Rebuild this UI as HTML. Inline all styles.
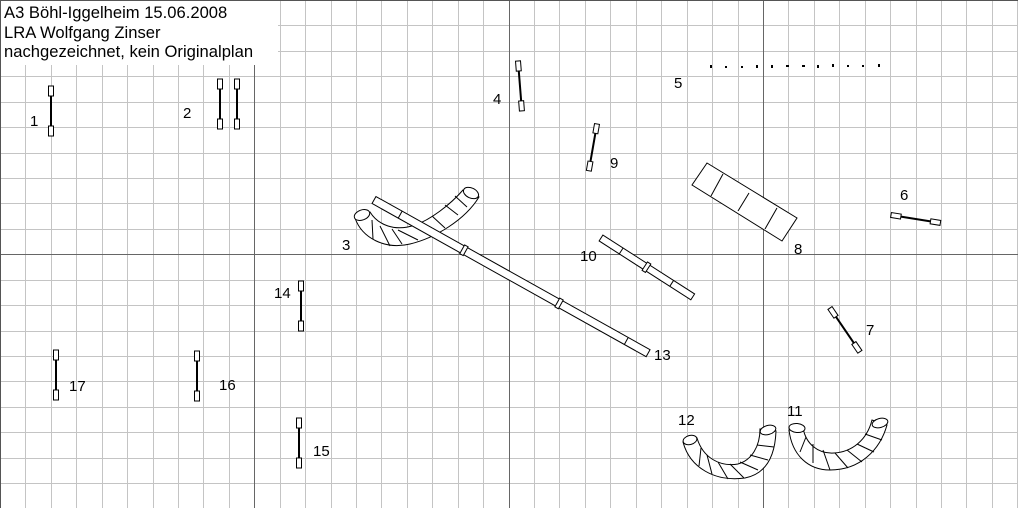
<!DOCTYPE html>
<html><head><meta charset="utf-8"><style>
html,body{margin:0;padding:0;background:#fff;}
svg{display:block;}
text{font-family:"Liberation Sans",sans-serif;fill:#000;}
</style></head><body>
<svg width="1018" height="508" viewBox="0 0 1018 508" xmlns="http://www.w3.org/2000/svg">
<defs>
<g id="j">
<rect x="0" y="-2.5" width="10" height="5" fill="#fff" stroke="#000" stroke-width="1"/>
<line x1="10" y1="0" x2="40" y2="0" stroke="#000" stroke-width="2"/>
<rect x="40" y="-2.5" width="10" height="5" fill="#fff" stroke="#000" stroke-width="1"/>
</g>
</defs>
<rect width="1018" height="508" fill="#fff"/>
<path stroke="#c4c4c4" stroke-width="1" fill="none" d="
M25.5,0V508 M51.5,0V508 M76.5,0V508 M102.5,0V508 M127.5,0V508 M153.5,0V508 M178.5,0V508 M203.5,0V508 M229.5,0V508
M280.5,0V508 M305.5,0V508 M331.5,0V508 M356.5,0V508 M381.5,0V508 M407.5,0V508 M432.5,0V508 M458.5,0V508 M483.5,0V508
M534.5,0V508 M559.5,0V508 M585.5,0V508 M610.5,0V508 M636.5,0V508 M661.5,0V508 M687.5,0V508 M712.5,0V508 M738.5,0V508
M788.5,0V508 M814.5,0V508 M839.5,0V508 M865.5,0V508 M890.5,0V508 M916.5,0V508 M941.5,0V508 M966.5,0V508 M992.5,0V508 M1017.5,0V508
M0,25.5H1018 M0,51.5H1018 M0,76.5H1018 M0,102.5H1018 M0,127.5H1018 M0,153.5H1018 M0,178.5H1018 M0,203.5H1018 M0,229.5H1018
M0,280.5H1018 M0,305.5H1018 M0,331.5H1018 M0,356.5H1018 M0,381.5H1018 M0,407.5H1018 M0,432.5H1018 M0,458.5H1018 M0,483.5H1018"/>
<path stroke="#666" stroke-width="1" fill="none" d="M254.5,0V508 M509.5,0V508 M763.5,0V508 M0,254.5H1018"/>
<line x1="0.5" y1="0" x2="0.5" y2="508" stroke="#555"/>
<line x1="0" y1="0.5" x2="1018" y2="0.5" stroke="#555"/>
<rect x="1" y="1" width="277" height="64" fill="#fff"/>
<text x="4" y="18" font-size="16.6">A3 Böhl-Iggelheim 15.06.2008</text>
<text x="4" y="38" font-size="16.6">LRA Wolfgang Zinser</text>
<text x="4" y="57" font-size="16.6">nachgezeichnet, kein Originalplan</text>

<use href="#j" transform="translate(51,86) rotate(90)"/>
<use href="#j" transform="translate(220,79) rotate(90)"/>
<use href="#j" transform="translate(237,79) rotate(90)"/>
<use href="#j" transform="translate(518,61) rotate(85.5)"/>
<use href="#j" transform="translate(597,124) rotate(99.9) scale(0.95,1)"/>
<use href="#j" transform="translate(891,215) rotate(9.1)"/>
<use href="#j" transform="translate(830,308) rotate(55.7) scale(1.06,1)"/>
<use href="#j" transform="translate(301,281) rotate(90)"/>
<use href="#j" transform="translate(299,418) rotate(90)"/>
<use href="#j" transform="translate(197,351) rotate(90)"/>
<use href="#j" transform="translate(56,350) rotate(90)"/>

<g fill="#000">
<rect x="710" y="65" width="2" height="3"/><rect x="725" y="66" width="2" height="2"/><rect x="741" y="66" width="2" height="2"/><rect x="756" y="65" width="2" height="3"/><rect x="771" y="65" width="2" height="3"/><rect x="786" y="65" width="3" height="2"/><rect x="802" y="65" width="3" height="2"/><rect x="817" y="65" width="2" height="3"/><rect x="832" y="64" width="2" height="3"/><rect x="847" y="65" width="2" height="2"/><rect x="862" y="65" width="2" height="2"/><rect x="878" y="64" width="2" height="3"/>
</g>

<g fill="none" stroke="#000" stroke-width="1">
<polygon points="707,163 797,218 782,241 692,185" fill="#fff"/>
<line x1="723" y1="174" x2="711" y2="196"/>
<line x1="749" y1="193" x2="738" y2="211"/>
<line x1="777" y1="208" x2="765" y2="229"/>

<path d="M355,218 C362,238 385,250 410,244 C435,238 465,220 479,197 L463,190 C450,205 430,220 415,225 C395,232 378,225 370,212 Z" fill="#fff"/>
<ellipse cx="362" cy="215" rx="8" ry="5" transform="rotate(-20 362 215)" fill="#fff"/>
<ellipse cx="471" cy="193" rx="8" ry="5" transform="rotate(25 471 193)" fill="#fff"/>
<line x1="372" y1="220" x2="373" y2="239"/><line x1="380" y1="226" x2="390" y2="246"/>
<line x1="392" y1="229" x2="402" y2="244"/><line x1="398" y1="230" x2="418" y2="240"/>
<line x1="420" y1="224" x2="430" y2="236"/><line x1="432" y1="216" x2="445" y2="228"/>
<line x1="445" y1="205" x2="458" y2="215"/><line x1="455" y1="196" x2="467" y2="207"/>

<g transform="translate(374,200) rotate(29.2)">
<rect x="0" y="-4" width="314" height="8" fill="#fff"/>
<line x1="30" y1="-4" x2="30" y2="4"/>
<line x1="289" y1="-4" x2="289" y2="4"/>
<rect x="101" y="-5" width="4" height="10" fill="#fff"/>
<rect x="210" y="-5" width="4" height="10" fill="#fff"/>
</g>
<g transform="translate(601,238) rotate(32.7)">
<rect x="0" y="-3.5" width="109" height="7" fill="#fff"/>
<line x1="24" y1="-3.5" x2="24" y2="3.5"/>
<line x1="84" y1="-3.5" x2="84" y2="3.5"/>
<rect x="52" y="-5" width="4" height="10" fill="#fff"/>
</g>

<path d="M683,442 C690,468 715,482 745,478 C765,474 775,458 776,431 L760,429 C760,446 752,460 738,464 C720,467 703,458 697,438 Z" fill="#fff"/>
<ellipse cx="690" cy="440" rx="7" ry="4.5" transform="rotate(-15 690 440)" fill="#fff"/>
<ellipse cx="768" cy="430" rx="8" ry="4.5" transform="rotate(-15 768 430)" fill="#fff"/>
<line x1="701" y1="448" x2="699" y2="466"/><line x1="707" y1="455" x2="712" y2="474"/>
<line x1="718" y1="462" x2="728" y2="479"/><line x1="730" y1="464" x2="744" y2="478"/>
<line x1="740" y1="462" x2="758" y2="470"/><line x1="750" y1="455" x2="768" y2="460"/>
<line x1="757" y1="445" x2="774" y2="447"/>
<path d="M789,430 C792,455 808,470 830,470 C860,470 880,450 887,425 L872,420 C867,440 852,452 834,453 C818,454 806,444 803,428 Z" fill="#fff"/>
<ellipse cx="797" cy="428" rx="8" ry="4.5" transform="rotate(5 797 428)" fill="#fff"/>
<ellipse cx="880" cy="423" rx="8" ry="4.5" transform="rotate(-15 880 423)" fill="#fff"/>
<line x1="806" y1="437" x2="800" y2="452"/><line x1="813" y1="444" x2="813" y2="463"/>
<line x1="823" y1="450" x2="830" y2="470"/><line x1="835" y1="453" x2="848" y2="468"/>
<line x1="847" y1="450" x2="862" y2="462"/><line x1="857" y1="444" x2="874" y2="452"/>
<line x1="865" y1="434" x2="882" y2="440"/>
</g>

<g font-size="15">
<text x="30" y="126">1</text>
<text x="183" y="118">2</text>
<text x="342" y="250">3</text>
<text x="493" y="104">4</text>
<text x="674" y="88">5</text>
<text x="900" y="200">6</text>
<text x="866" y="335">7</text>
<text x="794" y="254">8</text>
<text x="610" y="168">9</text>
<text x="580" y="261">10</text>
<text x="787" y="416">11</text>
<text x="678" y="425">12</text>
<text x="654" y="360">13</text>
<text x="274" y="298">14</text>
<text x="313" y="456">15</text>
<text x="219" y="390">16</text>
<text x="69" y="391">17</text>
</g>
</svg>
</body></html>
